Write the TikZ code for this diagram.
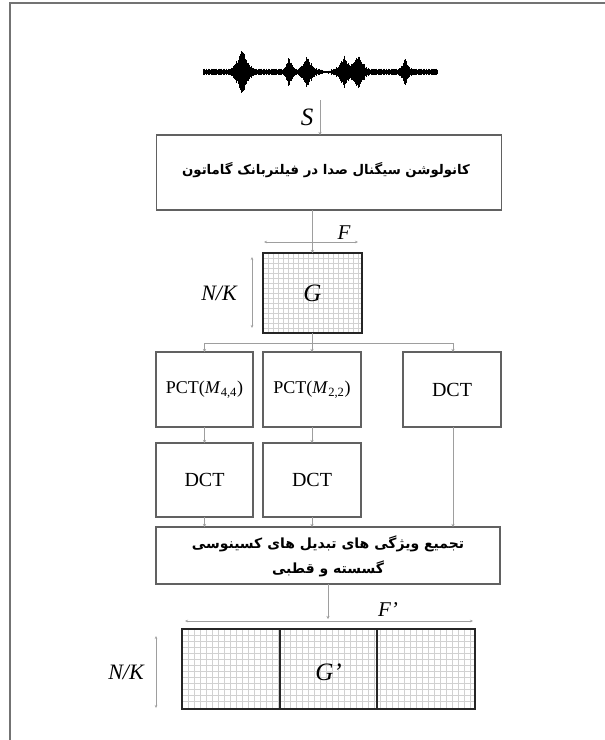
\documentclass[tikz,border=0pt]{standalone}
\usepackage{fontspec}
\setmainfont{Liberation Serif}
\newfontfamily\fa[Script=Arabic]{DejaVu Sans}
\TeXXeTstate=1
\usetikzlibrary{arrows.meta}
\definecolor{linec}{gray}{0.62}
\definecolor{boxc}{gray}{0.38}
\definecolor{gridc}{gray}{0.82}
\definecolor{framec}{gray}{0.45}
\begin{document}
\begin{tikzpicture}[x=1pt,y=-1pt,
  declare function={bump(\x,\c,\w)=max(0,1-abs(\x-\c)/\w)*max(0,1-abs(\x-\c)/\w);},
  box/.style={draw=boxc,line width=1.3pt,inner sep=0pt,outer sep=0pt,minimum height=75pt},
  gbox/.style={draw=black!85,line width=2.4pt,inner sep=0pt,outer sep=0pt},
  conn/.style={draw=linec,line width=0.8pt,-{Stealth[length=3pt,width=3pt]}},
  plain/.style={draw=linec,line width=0.8pt},
  dim/.style={draw=linec,line width=0.7pt,{Stealth[length=3pt,width=2.5pt]}-{Stealth[length=3pt,width=2.5pt]}},
  gridline/.style={draw=gridc,line width=0.4pt},
  wave/.style={draw=black,line width=0.8pt},
  lab/.style={font=\itshape\fontsize{21}{23}\selectfont,inner sep=0pt},
  btxt/.style={font=\fontsize{18}{20}\selectfont},
  dtxt/.style={font=\fontsize{20}{22}\selectfont},
  fatxt/.style={font=\fa\bfseries\fontsize{14}{25}\selectfont,align=center}
]
\useasboundingbox (0,0) rectangle (605,740);
% frame
\draw[draw=framec,line width=2pt] (10,740) -- (10,3) -- (605,3);

% waveform
\draw[wave,line width=1.4pt] (203,72) -- (437,72);
\foreach \x in {203,203.5,...,437}{
  \pgfmathsetmacro\a{(1.2+2.4*abs(sin(mod(\x,5)*72)))*(1-bump(\x,326,10)) + 20*bump(\x,242,14) + 12*bump(\x,289,7) + 13*bump(\x,307,11) + 13*bump(\x,344,11) + 14*bump(\x,358,13) + 12*bump(\x,405,7)}
  \pgfmathsetmacro\b{\a*(0.65+0.35*abs(sin(mod(\x,20)*157)))}
  \draw[wave] (\x,72-\b) -- (\x,72+\b);
}
\coordinate (s0) at (320,100);

% grids
\foreach \x in {268,273,...,360} \draw[gridline] (\x,253) -- (\x,333);
\foreach \y in {258,263,...,330} \draw[gridline] (263,\y) -- (362,\y);
\foreach \x in {188,194,...,472} \draw[gridline] (\x,629) -- (\x,709);
\foreach \y in {635,641,...,705} \draw[gridline] (182,\y) -- (475,\y);

% nodes
\node[box,minimum width=345pt] (box1) at (329,172.5) {};
\node[fatxt,font=\fa\bfseries\fontsize{13.3}{25}\selectfont] (t1) at (326,170) {\beginR کانولوشن سیگنال صدا در فیلتربانک گاماتون\endR};
\node[gbox,minimum width=99pt,minimum height=80pt] (G) at (312.5,293) {};
\node[lab,font=\itshape\fontsize{25}{27}\selectfont] (Gl) at (312.5,293) {G};

\node[box,minimum width=97pt] (r1a) at (204.5,389.5) {};
\node[btxt] at (r1a) {PCT(\textit{M}\textsubscript{4,4})};
\node[box,minimum width=98pt] (r1b) at (312,389.5) {};
\node[btxt] at (r1b) {PCT(\textit{M}\textsubscript{2,2})};
\node[box,minimum width=98pt] (r1c) at (452,389.5) {};
\node[dtxt] at (r1c) {DCT};

\node[box,minimum width=97pt,minimum height=74pt] (r2a) at (204.5,480) {};
\node[dtxt] at (r2a) {DCT};
\node[box,minimum width=98pt,minimum height=74pt] (r2b) at (312,480) {};
\node[dtxt] at (r2b) {DCT};

\node[box,minimum width=344pt,minimum height=57pt] (comb) at (328,555.5) {};
\node[fatxt] (t2) at (328,556) {\beginR تجمیع ویژگی های تبدیل های کسینوسی\endR\\ \beginR گسسته و قطبی\endR};

\node[gbox,minimum width=293pt,minimum height=80pt] (gp) at (328.5,669) {};
\draw[draw=black!85,line width=2.4pt] ([xshift=-48.5pt]gp.north) -- ([xshift=-48.5pt]gp.south);
\draw[draw=black!85,line width=2.4pt] ([xshift=48.5pt]gp.north) -- ([xshift=48.5pt]gp.south);
\node[lab,font=\itshape\fontsize{25}{27}\selectfont] (gpl) at (328.5,672) {G'};

% labels
\node[lab,font=\itshape\fontsize{25}{27}\selectfont] (S) at (307,117) {S};
\node[lab] (F) at (344,233) {F};
\node[lab,font=\itshape\fontsize{22}{24}\selectfont] (nk1) at (219,293) {N/K};
\node[lab] (Fp) at (388,610) {F'};
\node[lab,font=\itshape\fontsize{22}{24}\selectfont] (nk2) at (126,672) {N/K};

% connectors
\draw[conn] (s0) -- (s0 |- box1.north);
\draw[conn] (G.north |- box1.south) -- (G.north);
\coordinate (bus) at (312,343);
\draw[plain] (G.south) -- (G.south |- bus);
\draw[plain] (r1a.north |- bus) -- ([xshift=1pt]r1c.north |- bus);
\draw[conn] (r1a.north |- bus) -- (r1a.north);
\draw[conn] (r1b.north |- bus) -- (r1b.north);
\draw[conn] ([xshift=1pt]r1c.north |- bus) -- ([xshift=1pt]r1c.north);
\draw[conn] (r1a.south) -- (r2a.north);
\draw[conn] (r1b.south) -- (r2b.north);
\draw[conn] (r2a.south) -- (r2a.south |- comb.north);
\draw[conn] (r2b.south) -- (r2b.south |- comb.north);
\draw[conn] ([xshift=1pt]r1c.south) -- ([xshift=1pt]r1c.south |- comb.north);
\coordinate (gin) at (328,619);
\draw[conn] (comb.south) -- (gin);

% dimension lines
\draw[dim] ([xshift=1pt,yshift=11pt]G.north west) -- ([xshift=-4pt,yshift=11pt]G.north east);
\draw[dim] ([xshift=-11pt,yshift=-4pt]G.north west) -- ([xshift=-11pt,yshift=5pt]G.south west);
\draw[dim] ([xshift=3pt,yshift=8pt]gp.north west) -- ([xshift=-2pt,yshift=8pt]gp.north east);
\draw[dim] ([xshift=-26pt,yshift=-7pt]gp.north west) -- ([xshift=-26pt,yshift=1pt]gp.south west);
\end{tikzpicture}
\end{document}
